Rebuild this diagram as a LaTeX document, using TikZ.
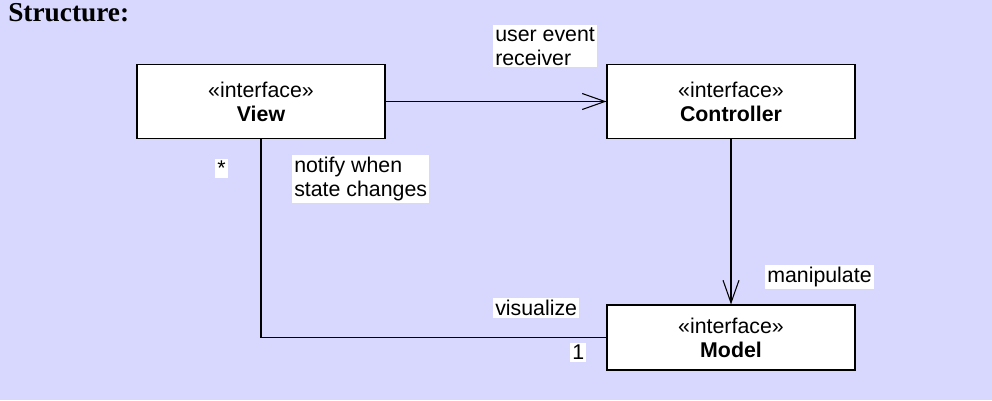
\documentclass[tikz,border=0pt]{standalone}
\usepackage{fontspec}
\setmainfont{Liberation Sans}
\newfontfamily\titlefont{Liberation Serif}
\usetikzlibrary{arrows.meta}
\definecolor{lavender}{RGB}{216,216,255}

\begin{document}
\begin{tikzpicture}[x=0.75pt,y=-0.75pt,>={Straight Barb[length=17pt,width=12pt]},
  every node/.style={font=\fontsize{16}{18}\selectfont},
  iface/.style={draw=black,fill=white,thick,minimum width=186pt,align=center,inner sep=0pt},
  lbl/.style={fill=white,align=left,inner sep=1.5pt,anchor=north west}]
 \fill[lavender] (0,0) rectangle (992,400);
 \useasboundingbox (0,0) rectangle (992,400);
 \node[font=\titlefont\bfseries\fontsize{20.5}{24}\selectfont,anchor=north west,inner sep=0pt] (title) at (8,3) {Structure:};
 \node[iface,minimum height=56pt] (v) at (261,101.5) {«interface»\\\textbf{View}};
 \node[iface,minimum height=56pt] (c) at (731,101.5) {«interface»\\\textbf{Controller}};
 \node[iface,minimum height=48.75pt] (m) at (731,337.5) {«interface»\\\textbf{Model}};
 \draw[->,thick] (v)--(c);
 \draw[->,thick] (c)--(m);
 \draw[thick] (v.south) |- (m.west);
 \node[lbl] (ue) at (493,25)  {user event\\receiver};
 \node[lbl] (nw) at (292,155) {notify when\\state changes};
 \node[lbl] (st) at (215,159) {*};
 \node[lbl] (mp) at (765,265) {manipulate};
 \node[lbl] (vz) at (493,298) {visualize};
 \node[lbl] (one) at (570,343) {1};
\end{tikzpicture}
\end{document}
